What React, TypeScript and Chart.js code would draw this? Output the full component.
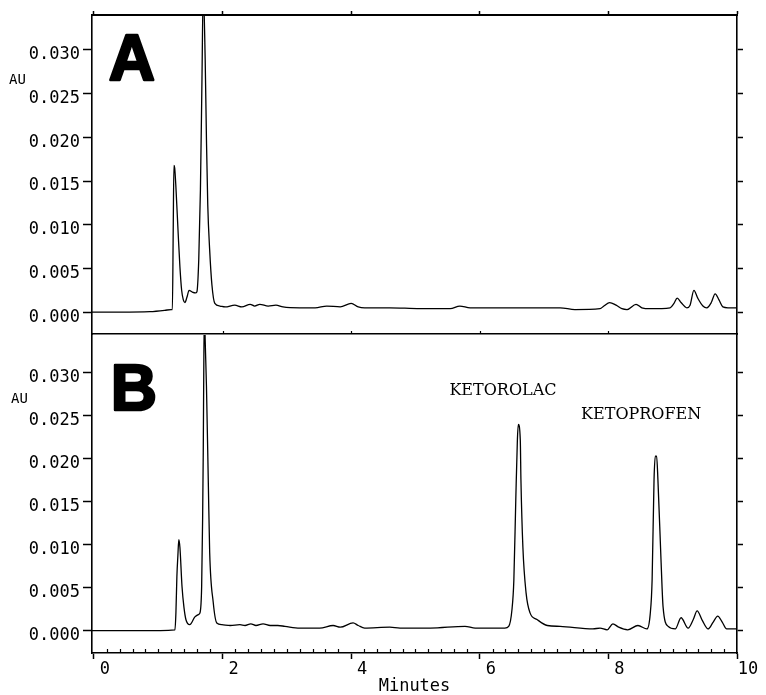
import React, { useEffect, useRef } from "react";
import { Chart, registerables } from "chart.js";

Chart.register(...registerables);

// ---------- data (retention time in minutes, absorbance in AU) ----------
const timesA = [-0.03, 0.40, 0.87, 1.10, 1.20, 1.22, 1.233, 1.244, 1.256, 1.275, 1.31, 1.337, 1.364, 1.39, 1.415, 1.446, 1.48, 1.53, 1.58, 1.60, 1.63, 1.656, 1.68, 1.70, 1.73, 1.75, 1.77, 1.80, 1.835, 1.88, 1.96, 2.04, 2.19, 2.30, 2.43, 2.50, 2.58, 2.71, 2.83, 2.94, 3.20, 3.44, 3.62, 3.83, 4.00, 4.11, 4.21, 4.60, 5.07, 5.54, 5.69, 5.85, 6.63, 7.25, 7.48, 7.87, 7.93, 8.02, 8.12, 8.21, 8.29, 8.43, 8.52, 8.65, 8.96, 9.02, 9.07, 9.13, 9.22, 9.27, 9.33, 9.39, 9.47, 9.53, 9.60, 9.66, 9.72, 9.78, 9.86, 10.0];
const valuesA = [0, 0, 0.00005, 0.0002, 0.0003, 0.0003, 0.0094, 0.0168, 0.0165, 0.0143, 0.0090, 0.0052, 0.0025, 0.0014, 0.0011, 0.0017, 0.0025, 0.0023, 0.0022, 0.0023, 0.0060, 0.0140, 0.0266, 0.0370, 0.0289, 0.0197, 0.0123, 0.0071, 0.0031, 0.0010, 0.0007, 0.0006, 0.0008, 0.0006, 0.0009, 0.0007, 0.0009, 0.0007, 0.0008, 0.0006, 0.0005, 0.0005, 0.0007, 0.0006, 0.0010, 0.0006, 0.0005, 0.0005, 0.0004, 0.0004, 0.0007, 0.0005, 0.0005, 0.0005, 0.0003, 0.0004, 0.0007, 0.0011, 0.0008, 0.0004, 0.0003, 0.0009, 0.0005, 0.0004, 0.0005, 0.0010, 0.0016, 0.0011, 0.0005, 0.0008, 0.0025, 0.0016, 0.0007, 0.0005, 0.0011, 0.0021, 0.0014, 0.0006, 0.0005, 0.0005];

const timesB = [-0.03, 0.72, 1.26, 1.275, 1.29, 1.306, 1.32, 1.337, 1.37, 1.40, 1.43, 1.49, 1.57, 1.63, 1.65, 1.675, 1.69, 1.70, 1.71, 1.72, 1.73, 1.75, 1.78, 1.80, 1.855, 1.91, 1.99, 2.12, 2.27, 2.35, 2.44, 2.52, 2.63, 2.74, 2.86, 2.97, 3.20, 3.51, 3.72, 3.83, 4.03, 4.11, 4.21, 4.60, 4.76, 5.23, 5.77, 5.93, 6.39, 6.45, 6.50, 6.53, 6.56, 6.585, 6.60, 6.63, 6.64, 6.67, 6.72, 6.78, 6.89, 7.05, 7.25, 7.76, 7.87, 7.98, 8.07, 8.16, 8.30, 8.46, 8.60, 8.65, 8.68, 8.71, 8.73, 8.75, 8.77, 8.82, 8.85, 8.93, 9.04, 9.13, 9.24, 9.32, 9.38, 9.46, 9.55, 9.63, 9.70, 9.77, 9.84, 10.0];
const valuesB = [0, 0, 0.0001, 0.0021, 0.0063, 0.0088, 0.0106, 0.0097, 0.0051, 0.0027, 0.0013, 0.0007, 0.0016, 0.0019, 0.0021, 0.0051, 0.0129, 0.0207, 0.0323, 0.0370, 0.0338, 0.0284, 0.0167, 0.0091, 0.0033, 0.0009, 0.0007, 0.0006, 0.0007, 0.0006, 0.0008, 0.0006, 0.0008, 0.0006, 0.0006, 0.0005, 0.0003, 0.0003, 0.0006, 0.0004, 0.0009, 0.0006, 0.0003, 0.0004, 0.0003, 0.0003, 0.0005, 0.0003, 0.0003, 0.0005, 0.0024, 0.0059, 0.0152, 0.0222, 0.0240, 0.0222, 0.0176, 0.0098, 0.0044, 0.0021, 0.0013, 0.0006, 0.0005, 0.0002, 0.0003, 0.0001, 0.0008, 0.0004, 0.0001, 0.0006, 0.0002, 0.0019, 0.0059, 0.0176, 0.0203, 0.0203, 0.0176, 0.0079, 0.0028, 0.0005, 0.0002, 0.0015, 0.0003, 0.0013, 0.0023, 0.0012, 0.0002, 0.0010, 0.0017, 0.0010, 0.0002, 0.0002];

const xRange = [-0.03, 10];
const yRangeA = [-0.0025, 0.034];
const yRangeB = [-0.0026, 0.0344];
const xMajorStep = 2;
const xMinorStep = 0.2;
const yStep = 0.005;
const xTitle = "Minutes";
const yUnit = "AU";
const panelLetters = ["A", "B"];
const peakNames = ["KETOROLAC", "KETOPROFEN"];
const peakLabelTimes = [6.36, 8.51];
const peakLabelValues = [0.0279, 0.0251];

// ---------- styling ----------
const MONO = "'DejaVu Sans Mono', monospace";
const BLACK = "#000";

const minorTickValues = Array.from({ length: Math.round((xRange[1]) / xMinorStep) + 1 }, (_, i) => +(i * xMinorStep).toFixed(2)).filter(
  (v) => Math.abs(v / xMajorStep - Math.round(v / xMajorStep)) > 1e-6
);
const majorInnerValues = [2, 4, 6, 8];

const overlayPlugin = {
  id: "overlay",
  afterDraw(chart: any, _args: any, opts: any) {
    const { ctx, chartArea } = chart;
    const xs = chart.scales.x;
    const ys = chart.scales.y;
    ctx.save();
    ctx.strokeStyle = BLACK;
    ctx.lineWidth = 1.2;
    (opts.inwardTicks || []).forEach((spec: any) => {
      spec.values.forEach((v: number) => {
        const px = Math.round(xs.getPixelForValue(v)) + 0.5;
        ctx.beginPath();
        ctx.moveTo(px, chartArea.bottom);
        ctx.lineTo(px, chartArea.bottom - spec.length);
        ctx.stroke();
      });
    });
    (opts.texts || []).forEach((t: any) => {
      ctx.font = t.font;
      ctx.fillStyle = BLACK;
      ctx.textAlign = t.align;
      ctx.textBaseline = t.baseline;
      const px = xs.getPixelForValue(t.x);
      const py = ys.getPixelForValue(t.y);
      if (t.stroke) {
        ctx.lineWidth = t.stroke;
        ctx.strokeStyle = BLACK;
        ctx.lineJoin = "round";
        ctx.strokeText(t.text, px, py);
      }
      ctx.fillText(t.text, px, py);
    });
    ctx.restore();
  },
};

function fixSize(size: { width?: number; height?: number }) {
  return (s: any) => {
    if (size.width !== undefined) s.width = size.width;
    if (size.height !== undefined) s.height = size.height;
    s.paddingTop = 0;
    s.paddingBottom = 0;
    s.paddingLeft = 0;
    s.paddingRight = 0;
  };
}

function buildConfig(panel: "A" | "B"): any {
  const isA = panel === "A";
  const times = isA ? timesA : timesB;
  const values = isA ? valuesA : valuesB;
  const yRange = isA ? yRangeA : yRangeB;
  const points = times.map((t, i) => ({ x: t, y: values[i] }));

  const borderOpts = { display: true, color: BLACK, width: 1.6 };

  const scales: any = {
    x: {
      type: "linear",
      position: "bottom",
      min: xRange[0],
      max: xRange[1],
      ticks: {
        display: !isA,
        stepSize: xMajorStep,
        autoSkip: false,
        includeBounds: false,
        maxRotation: 0,
        minRotation: 0,
        labelOffset: 11,
        padding: 0,
        color: BLACK,
        font: { family: MONO, size: 17 },
        callback: (v: any) => String(v),
      },
      grid: {
        drawOnChartArea: false,
        drawTicks: !isA,
        tickLength: 6,
        tickColor: BLACK,
        tickWidth: 1.5,
      },
      border: borderOpts,
      title: {
        display: !isA,
        text: xTitle,
        color: BLACK,
        font: { family: MONO, size: 17, lineHeight: 1 },
        padding: { top: 0, bottom: 0 },
      },
      afterFit: fixSize({ height: isA ? 6 : 42 }),
    },
    y: {
      type: "linear",
      position: "left",
      min: yRange[0],
      max: yRange[1],
      ticks: {
        stepSize: yStep,
        includeBounds: false,
        labelOffset: 5,
        padding: 3,
        color: BLACK,
        font: { family: MONO, size: 17 },
        callback: (v: any) => Number(v).toFixed(3),
      },
      grid: { drawOnChartArea: false, tickLength: 9, tickColor: BLACK, tickWidth: 1.5 },
      border: borderOpts,
      afterFit: fixSize({ width: 92 }),
    },
    y2: {
      type: "linear",
      position: "right",
      min: yRange[0],
      max: yRange[1],
      ticks: { stepSize: yStep, includeBounds: false, display: false },
      grid: { drawOnChartArea: false, tickLength: 6, tickColor: BLACK, tickWidth: 1.5 },
      border: borderOpts,
      afterFit: fixSize({ width: 29 }),
    },
  };
  if (isA) {
    scales.x2 = {
      type: "linear",
      position: "top",
      min: xRange[0],
      max: xRange[1],
      ticks: { stepSize: xMajorStep, includeBounds: false, display: false },
      grid: { drawOnChartArea: false, tickLength: 4, tickColor: BLACK, tickWidth: 1.5 },
      border: { display: true, color: BLACK, width: 2 },
      afterFit: fixSize({ height: 15 }),
    };
  }

  const texts: any[] = isA
    ? [
        { text: panelLetters[0], x: 0.23, y: 0.0266, font: "bold 64px 'Liberation Sans', Arial, sans-serif", align: "left", baseline: "alphabetic", stroke: 2.5 },
        { text: yUnit, x: -1.32, y: 0.0261, font: `14px ${MONO}`, align: "left", baseline: "alphabetic" },
      ]
    : [
        { text: panelLetters[1], x: 0.26, y: 0.0257, font: "bold 64px 'Liberation Sans', Arial, sans-serif", align: "left", baseline: "alphabetic", stroke: 2.5 },
        { text: yUnit, x: -1.29, y: 0.0265, font: `14px ${MONO}`, align: "left", baseline: "alphabetic" },
        ...peakNames.map((name, i) => ({
          text: name,
          x: peakLabelTimes[i],
          y: peakLabelValues[i],
          font: "16px 'DejaVu Serif', serif",
          align: "center",
          baseline: "middle",
        })),
      ];

  const inwardTicks = isA
    ? [{ values: majorInnerValues, length: 3 }]
    : [{ values: minorTickValues, length: 4 }];

  return {
    type: "line",
    data: {
      datasets: [
        {
          data: points,
          borderColor: BLACK,
          borderWidth: 1.3,
          pointRadius: 0,
          fill: false,
          cubicInterpolationMode: "monotone",
          borderJoinStyle: "round",
        },
      ],
    },
    options: {
      responsive: false,
      animation: false,
      devicePixelRatio: 1,
      parsing: true,
      layout: { padding: { top: isA ? 0 : 5, left: 0, right: 0, bottom: 0 } },
      plugins: {
        legend: { display: false },
        tooltip: { enabled: false },
        overlay: { texts, inwardTicks },
      },
      scales,
    },
    plugins: [overlayPlugin],
  };
}

export default function App() {
  const refA = useRef<HTMLCanvasElement | null>(null);
  const refB = useRef<HTMLCanvasElement | null>(null);

  useEffect(() => {
    const charts: Chart[] = [];
    if (refA.current) charts.push(new Chart(refA.current, buildConfig("A")));
    if (refB.current) charts.push(new Chart(refB.current, buildConfig("B")));
    return () => charts.forEach((c) => c.destroy());
  }, []);

  return (
    <div
      style={{
        position: "absolute",
        left: 0,
        top: 0,
        width: 766,
        height: 695,
        overflow: "hidden",
        background: "#fff",
      }}
    >
      <canvas ref={refA} width={766} height={340} style={{ position: "absolute", left: 0, top: 0 }} />
      <canvas ref={refB} width={766} height={365} style={{ position: "absolute", left: 0, top: 330 }} />
    </div>
  );
}
